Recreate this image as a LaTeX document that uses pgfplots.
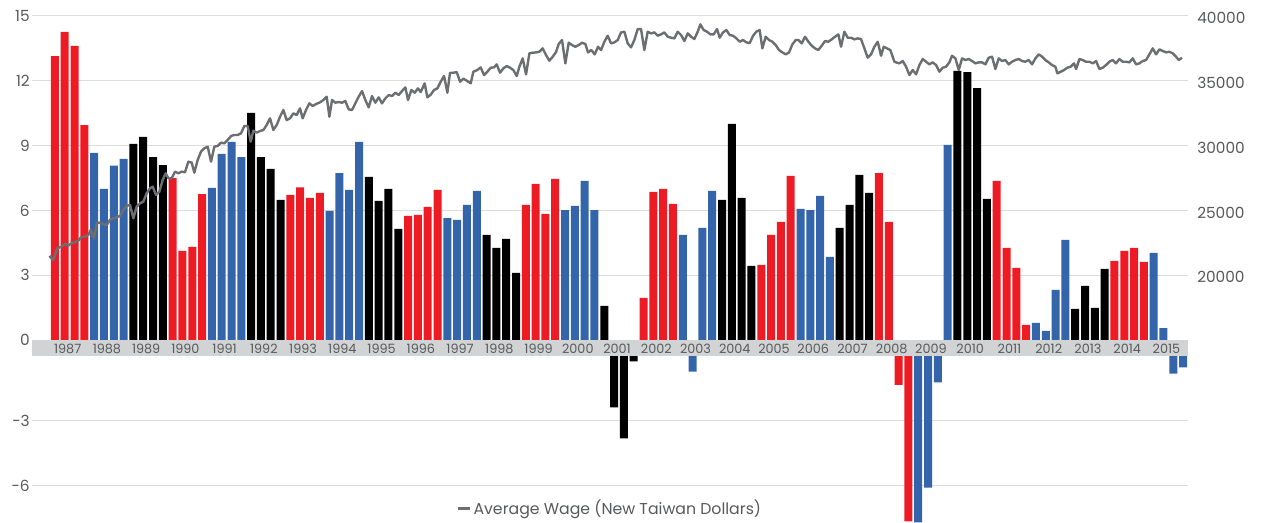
\documentclass[border=0pt]{standalone}
\usepackage{pgfplots}
\pgfplotsset{compat=1.18}
\usepackage{pgfplotstable}
\usepackage{fontspec}
\setmainfont{Poppins}
\definecolor{barred}{HTML}{ED1C24}
\definecolor{barblue}{HTML}{3465AA}
\definecolor{barblack}{HTML}{000000}
\definecolor{wagegray}{HTML}{6D6E71}
\definecolor{gridgray}{HTML}{DCDCDC}
\definecolor{bandgray}{HTML}{D1D3D4}
\definecolor{labelgray}{HTML}{58595B}

\pgfplotstableread{
x y
1987.125 13.14
1987.375 14.25
1987.625 13.61
1987.875 9.95
1990.125 7.50
1990.375 4.13
1990.625 4.31
1990.875 6.76
1993.125 6.72
1993.375 7.07
1993.625 6.58
1993.875 6.81
1996.125 5.75
1996.375 5.79
1996.625 6.16
1996.875 6.95
1999.125 6.26
1999.375 7.23
1999.625 5.84
1999.875 7.46
2002.125 1.96
2002.375 6.86
2002.625 7.00
2002.875 6.30
2005.125 3.48
2005.375 4.87
2005.625 5.47
2005.875 7.60
2008.125 7.73
2008.375 5.47
2008.625 -1.34
2008.875 -7.66
2011.125 7.37
2011.375 4.27
2011.625 3.34
2011.875 0.71
2014.125 3.67
2014.375 4.13
2014.625 4.27
2014.875 3.62
}\redbars

\pgfplotstableread{
x y
1988.125 8.66
1988.375 7.00
1988.625 8.07
1988.875 8.38
1991.125 7.04
1991.375 8.61
1991.625 9.17
1991.875 8.47
1994.125 5.98
1994.375 7.73
1994.625 6.95
1994.875 9.17
1997.125 5.65
1997.375 5.56
1997.625 6.26
1997.875 6.90
2000.125 6.02
2000.375 6.21
2000.625 7.37
2000.875 6.02
2003.125 4.87
2003.375 -0.73
2003.625 5.19
2003.875 6.90
2006.125 6.07
2006.375 6.02
2006.625 6.67
2006.875 3.85
2009.125 -7.70
2009.375 -6.09
2009.625 -1.23
2009.875 9.03
2012.125 0.80
2012.375 0.43
2012.625 2.33
2012.875 4.64
2015.125 4.04
2015.375 0.56
2015.625 -0.82
2015.875 -0.54
}\bluebars

\pgfplotstableread{
x y
1989.125 9.08
1989.375 9.40
1989.625 8.47
1989.875 8.10
1992.125 10.51
1992.375 8.47
1992.625 7.92
1992.875 6.49
1995.125 7.55
1995.375 6.44
1995.625 7.00
1995.875 5.15
1998.125 4.87
1998.375 4.27
1998.625 4.68
1998.875 3.11
2001.125 1.59
2001.375 -2.39
2001.625 -3.82
2001.875 -0.26
2004.125 6.49
2004.375 10.00
2004.625 6.58
2004.875 3.44
2007.125 5.19
2007.375 6.26
2007.625 7.64
2007.875 6.81
2010.125 12.45
2010.375 12.40
2010.625 11.66
2010.875 6.53
2013.125 1.45
2013.375 2.51
2013.625 1.49
2013.875 3.30
}\blackbars

\pgfplotstableread{
x y
1986.983 21495
1987.085 21187
1987.187 22086
1987.297 22214
1987.382 22420
1987.467 22291
1987.552 22471
1987.637 22574
1987.722 22677
1987.790 22934
1987.892 22985
1987.977 23113
1988.037 23498
1988.122 22856
1988.190 24011
1988.274 24062
1988.359 23960
1988.444 23857
1988.529 24268
1988.614 24396
1988.699 24473
1988.784 24576
1988.869 25038
1988.954 25346
1989.039 25423
1989.124 24396
1989.209 25295
1989.293 25551
1989.378 25680
1989.463 26321
1989.548 26706
1989.616 26835
1989.702 26193
1989.787 26450
1989.871 27348
1989.948 27862
1990.016 27477
1990.101 27477
1990.186 27990
1990.271 27862
1990.356 27990
1990.440 27939
1990.525 28760
1990.610 28683
1990.678 27913
1990.763 28888
1990.848 29530
1990.933 29787
1991.018 29915
1991.103 28760
1991.188 29915
1991.273 29967
1991.358 30223
1991.443 30172
1991.528 30429
1991.613 30737
1991.698 30814
1991.783 30814
1991.867 30942
1991.952 31507
1992.037 31507
1992.114 30300
1992.182 31147
1992.267 30993
1992.352 31122
1992.437 31199
1992.522 31584
1992.607 32097
1992.692 31199
1992.777 31584
1992.862 32226
1992.946 32739
1993.031 31969
1993.116 32097
1993.201 32482
1993.286 32354
1993.371 32867
1993.439 32097
1993.524 32739
1993.609 33252
1993.694 33047
1993.779 33201
1993.881 33329
1993.966 33508
1994.051 33765
1994.119 32225
1994.187 33508
1994.272 33303
1994.357 33354
1994.441 33303
1994.526 33431
1994.611 32789
1994.696 32738
1994.781 33252
1994.866 33765
1994.951 34201
1995.036 33508
1995.121 32943
1995.206 33816
1995.291 33303
1995.376 33714
1995.461 33252
1995.546 33637
1995.631 33893
1995.716 33816
1995.801 34073
1995.886 33893
1995.970 34201
1996.055 34484
1996.123 33508
1996.208 34278
1996.293 34073
1996.378 34407
1996.446 34124
1996.548 34792
1996.616 33714
1996.701 33919
1996.786 34278
1996.871 34407
1996.956 34920
1997.041 35357
1997.126 34073
1997.194 35613
1997.279 35613
1997.364 35665
1997.449 34920
1997.534 35151
1997.619 34997
1997.720 34792
1997.788 35690
1997.890 35819
1997.975 36024
1998.060 35433
1998.145 35690
1998.230 35998
1998.315 36024
1998.383 36255
1998.468 35613
1998.553 35947
1998.638 36127
1998.723 35998
1998.808 35819
1998.893 35357
1998.961 36075
1999.046 36717
1999.131 35485
1999.216 37102
1999.300 37153
1999.385 37179
1999.470 37230
1999.555 37487
1999.640 36974
1999.725 36537
1999.810 36845
1999.895 37205
1999.963 37821
2000.048 38129
2000.133 36332
2000.218 37923
2000.303 37744
2000.388 37615
2000.473 37744
2000.558 37923
2000.643 37821
2000.711 37179
2000.796 37359
2000.881 37025
2000.966 37615
2001.042 37360
2001.127 38001
2001.212 38463
2001.297 37873
2001.382 37950
2001.467 38130
2001.552 38720
2001.637 38772
2001.721 37873
2001.806 37565
2001.891 38130
2001.976 38977
2002.061 38977
2002.146 37360
2002.231 38772
2002.316 38643
2002.401 38720
2002.486 38463
2002.571 38566
2002.656 38720
2002.741 38386
2002.826 38310
2002.911 38258
2002.996 38772
2003.081 38515
2003.166 38053
2003.251 38643
2003.336 38386
2003.420 38207
2003.505 38772
2003.573 39336
2003.658 38900
2003.743 38772
2003.828 38566
2003.913 38566
2003.998 38977
2004.066 38310
2004.151 38720
2004.236 38900
2004.321 38515
2004.406 38463
2004.491 38258
2004.576 38001
2004.661 38130
2004.746 37950
2004.831 37899
2004.916 38463
2005.000 38772
2005.085 38900
2005.153 37488
2005.238 38386
2005.323 38130
2005.408 38001
2005.493 37745
2005.578 37360
2005.663 37180
2005.748 37026
2005.833 37180
2005.918 37796
2006.003 38130
2006.071 38130
2006.156 37873
2006.241 38386
2006.326 38001
2006.411 37693
2006.496 37488
2006.580 37360
2006.665 37693
2006.750 38053
2006.835 38001
2006.920 38181
2007.005 38386
2007.090 38566
2007.158 37616
2007.243 38772
2007.328 38310
2007.413 38310
2007.498 38181
2007.583 38258
2007.668 38207
2007.753 37488
2007.838 36769
2007.923 37026
2008.008 37616
2008.093 38001
2008.178 36923
2008.246 37616
2008.330 37488
2008.415 37360
2008.517 36461
2008.560 36410
2008.645 36333
2008.730 36513
2008.815 36076
2008.900 35435
2008.985 35819
2009.070 35486
2009.155 36205
2009.240 36667
2009.324 36461
2009.409 36256
2009.494 36410
2009.579 36205
2009.664 35691
2009.749 35999
2009.834 36076
2009.919 36410
2009.987 36923
2010.072 36718
2010.157 35819
2010.242 36718
2010.327 36590
2010.412 36667
2010.497 36513
2010.582 36333
2010.667 36410
2010.752 36410
2010.836 36256
2010.921 36769
2011.006 36846
2011.091 35897
2011.176 36718
2011.261 36513
2011.346 36590
2011.431 36256
2011.516 36461
2011.601 36590
2011.686 36667
2011.771 36513
2011.856 36461
2011.941 36590
2012.026 36256
2012.111 36718
2012.196 37026
2012.280 36846
2012.365 36590
2012.450 36410
2012.535 36205
2012.620 36076
2012.671 35563
2012.756 35691
2012.841 35819
2012.926 35999
2013.011 36076
2013.096 36333
2013.147 35897
2013.232 36667
2013.317 36590
2013.402 36461
2013.487 36461
2013.572 36333
2013.657 36513
2013.742 35897
2013.827 35999
2013.911 36205
2013.996 36461
2014.081 36590
2014.166 36333
2014.251 36667
2014.336 36461
2014.421 36461
2014.506 36410
2014.591 36718
2014.676 36256
2014.761 36333
2014.846 36513
2014.931 36590
2015.016 37026
2015.101 37488
2015.186 37026
2015.271 37411
2015.356 37283
2015.441 37180
2015.526 37231
2015.610 37103
2015.695 36846
2015.763 36590
2015.848 36769
}\wage

\begin{document}
\begin{tikzpicture}
\useasboundingbox (-24pt,0pt) rectangle (922.5pt,392.25pt);
\begin{axis}[
  at={(0pt,0pt)}, anchor=south west,
  scale only axis,
  width=867pt, height=392.25pt,
  xmin=1986.541, xmax=2016.0,
  ymin=-8.45, ymax=15.73,
  scaled x ticks=false, scaled y ticks=false,
  axis line style={draw=none},
  major tick length=0pt,
  ymajorgrids,
  major grid style={line width=0.75pt, color=gridgray},
  ytick={-6.72,-3.72,0,3,6,9,12,15},
  yticklabels={-6,-3,0,3,6,9,12,15},
  yticklabel style={anchor=east, inner sep=0pt, xshift=-1.5pt, font=\fontsize{11.5}{12}\selectfont, text=labelgray},
  xtick=\empty,
  y filter/.expression={y<0 ? y-0.72 : y},
]
\addplot[ybar, bar width=6pt, bar shift=0pt, fill=barred, draw=none] table[x=x,y=y] {\redbars};
\addplot[ybar, bar width=6pt, bar shift=0pt, fill=barblue, draw=none] table[x=x,y=y] {\bluebars};
\addplot[ybar, bar width=6pt, bar shift=0pt, fill=barblack, draw=none] table[x=x,y=y] {\blackbars};
\fill[bandgray] (axis cs:1986.541,0) rectangle (axis cs:2016.0,-0.72);
\end{axis}
\begin{axis}[
  at={(0pt,0pt)}, anchor=south west,
  scale only axis,
  width=867pt, height=392.25pt,
  xmin=1986.541, xmax=2016.0,
  ymin=916.7, ymax=41216.7,
  scaled x ticks=false, scaled y ticks=false,
  axis x line*=bottom,
  axis y line*=right,
  axis line style={draw=none},
  major tick length=0pt,
  xtick={1987.45,1988.45,1989.45,1990.45,1991.45,1992.45,1993.45,1994.45,1995.45,1996.45,1997.45,1998.45,1999.45,2000.45,2001.45,2002.45,2003.45,2004.45,2005.45,2006.45,2007.45,2008.45,2009.45,2010.45,2011.45,2012.45,2013.45,2014.45,2015.45},
  xticklabels={1987,1988,1989,1990,1991,1992,1993,1994,1995,1996,1997,1998,1999,2000,2001,2002,2003,2004,2005,2006,2007,2008,2009,2010,2011,2012,2013,2014,2015},
  xticklabel style={anchor=center, inner sep=0pt, yshift=130.65pt, font=\fontsize{9.6}{10}\selectfont, text=labelgray},
  ytick={20000,25000,30000,35000,40000},
  yticklabels={20000,25000,30000,35000,40000},
  yticklabel style={anchor=west, inner sep=0pt, xshift=6.75pt, yshift=-1.5pt, font=\fontsize{11.5}{12}\selectfont, text=labelgray},
  legend style={at={(0.5,0.028)}, anchor=center, draw=none, fill=none,
    font=\fontsize{11.8}{13}\selectfont, text=labelgray},
  legend image code/.code={\draw[line width=2pt, color=wagegray] (0pt,0pt) -- (9pt,0pt);},
]
\addplot[color=wagegray, line width=1.8pt, line join=round] table[x=x,y=y] {\wage};
\addlegendentry{Average Wage (New Taiwan Dollars)}
\end{axis}
\end{tikzpicture}
\end{document}
